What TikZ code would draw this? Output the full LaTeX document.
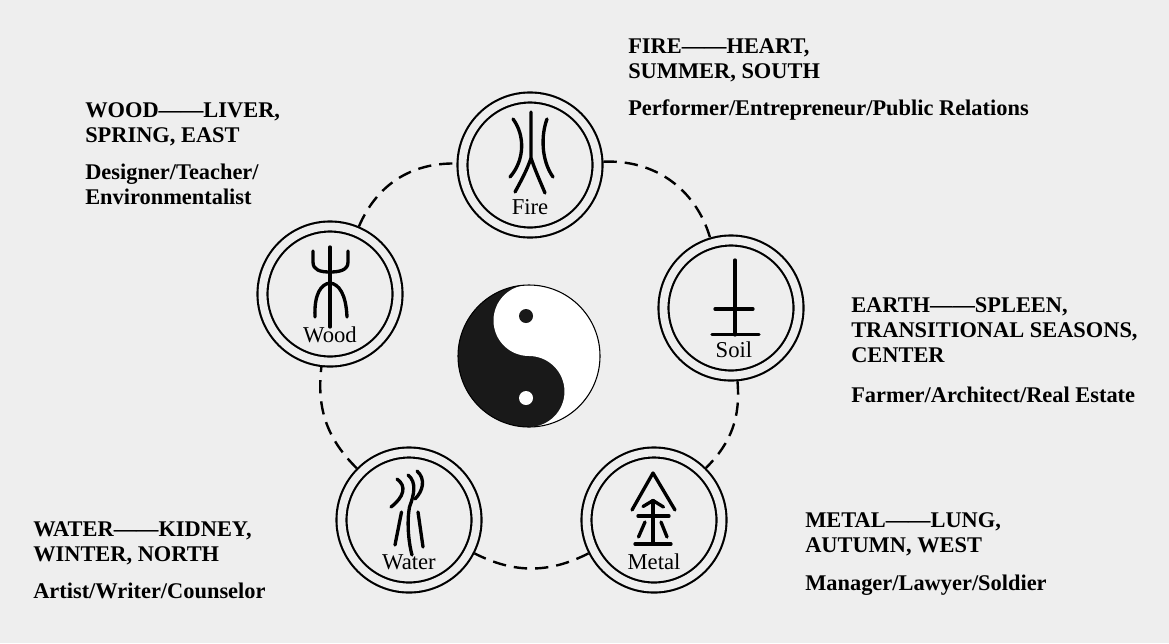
\documentclass[tikz,border=0pt]{standalone}
\usepackage{fontspec}
\setmainfont{Liberation Serif}
\definecolor{bg}{HTML}{EEEEEE}

\begin{document}
\begin{tikzpicture}[x=0.75pt,y=-0.75pt,
    ring/.style={circle,draw,line width=1.6pt,double=bg,double distance=5.9pt,fill=bg,
      minimum size=101.25pt,inner sep=0pt,outer sep=4.5pt},
    link/.style={line width=1.8pt,dash pattern=on 10pt off 6pt},
    glyph/.style={line width=2.5pt,line cap=round,line join=round},
    tag/.style={anchor=base,inner sep=0pt,font=\fontsize{17}{18}\selectfont},
    info/.style={anchor=north west,align=left,inner sep=0pt,
      font=\fontsize{16.8}{18.75}\selectfont\bfseries}]
\fill[bg] (0,0) rectangle (1169,643);

% the five elements
\node[ring] (fire)  at (530,165) {};
\node[ring] (wood)  at (330,294) {};
\node[ring] (soil)  at (731,308) {};
\node[ring] (metal) at (654,520) {};
\node[ring] (water) at (409,520) {};

\foreach \a/\b/\k in {fire/soil/38, soil/metal/25, metal/water/27, water/wood/26, wood/fire/34}
  \draw[link] (\a) to[bend left=\k] (\b);

% seal glyphs
\draw[glyph] (531,112) -- (531,158) .. controls (527,170) and (521,181) .. (515,192)
  (531,158) .. controls (535,170) and (540,181) .. (545,193);
\draw[glyph] (513,119) .. controls (525,135) and (525,160) .. (510,177);
\draw[glyph] (547,119) .. controls (541,135) and (541,160) .. (553,177);

\draw[glyph] (330,247) -- (330,327);
\draw[glyph] (313,251) -- (313,262) .. controls (313,270) and (320,272) .. (330,272)
  .. controls (340,272) and (348,270) .. (348,262) -- (348,251);
\draw[glyph] (315,317) .. controls (314,294) and (321,284) .. (330,283)
  .. controls (339,284) and (346,294) .. (347,317);

\draw[glyph] (735,260) -- (735,335);
\draw[glyph] (715,309) -- (753,309);
\draw[glyph] (712,334.5) -- (759,334.5);

\draw[glyph] (632,510) -- (653,473) -- (675,510);
\draw[glyph] (643,506.5) -- (653,500.5) -- (663.5,507);
\draw[glyph] (653,500.5) -- (653,544);
\draw[glyph] (638,516) -- (669,516);
\draw[glyph] (645,522) -- (638.5,537);
\draw[glyph] (661,522) -- (667,537);
\draw[glyph] (635,544) -- (671,544);

\draw[glyph] (397,479) .. controls (407,486) and (404,497) .. (391,507);
\draw[glyph] (408,475) .. controls (417,482) and (414,495) .. (409.5,507)
  .. controls (407,520) and (408,540) .. (412,555);
\draw[glyph] (417,471) .. controls (426,479) and (423,491) .. (415,499);
\draw[glyph] (401.5,512) -- (395,545);
\draw[glyph] (418,512) -- (423,547);

\node[tag] (firetag)  at (530,214) {Fire};
\node[tag] (woodtag)  at (330,342) {Wood};
\node[tag] (soiltag)  at (734,357) {Soil};
\node[tag] (metaltag) at (654,569) {Metal};
\node[tag] (watertag) at (409,569) {Water};

% yin yang
\begin{scope}[shift={(529,356)},y=0.75pt]
  \fill[black!90] (0,0) circle[radius=71];
  \fill[white] (0,71) arc[start angle=90,end angle=-90,radius=71]
    arc[start angle=-90,end angle=90,radius=35.5]
    arc[start angle=270,end angle=90,radius=35.5] -- cycle;
  \fill[black!90] (-3,40) circle[radius=7];
  \fill[white] (-3,-42) circle[radius=7];
  \draw[line width=0.8pt] (0,0) circle[radius=71];
\end{scope}

% texts
\node[info] (firetext)  at (628,38.5)  {FIRE——HEART,\\SUMMER, SOUTH\\[9pt]Performer/Entrepreneur/Public Relations};
\node[info] (woodtext)  at (85,102.5)  {WOOD——LIVER,\\SPRING, EAST\\[9pt]Designer/Teacher/\\Environmentalist};
\node[info] (soiltext)  at (851,297.5) {EARTH——SPLEEN,\\TRANSITIONAL SEASONS,\\CENTER\\[11pt]Farmer/Architect/Real Estate};
\node[info] (metaltext) at (805,512.5) {METAL——LUNG,\\AUTUMN, WEST\\[10pt]Manager/Lawyer/Soldier};
\node[info] (watertext) at (33,521.5)  {WATER——KIDNEY,\\WINTER, NORTH\\[9pt]Artist/Writer/Counselor};
\end{tikzpicture}
\end{document}
